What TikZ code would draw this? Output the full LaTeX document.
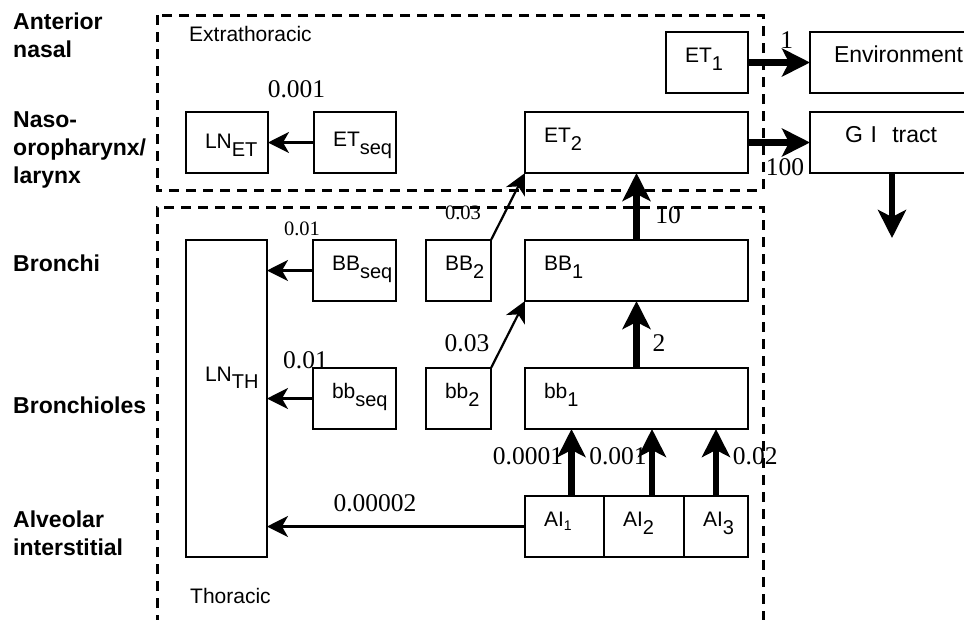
\documentclass[tikz,border=0pt]{standalone}
\usepackage{fontspec}
\setmainfont{Liberation Serif}
\setsansfont{Liberation Sans}
\usetikzlibrary{arrows.meta}
\newcommand\sbx[1]{\raisebox{-7.5pt}{\fontsize{20}{20}\selectfont #1}}
\newcommand\sbxs[1]{\raisebox{-3.5pt}{\fontsize{14}{14}\selectfont #1}}
\begin{document}
\begin{tikzpicture}[x=1pt,y=-1pt,
  box/.style={draw, line width=2.5pt, outer sep=0pt, inner xsep=19pt, inner ysep=0pt,
    align=left, anchor=north west, text height=8pt, text depth=8pt, minimum height=61pt,
    font=\sffamily\fontsize{21}{21}\selectfont},
  bigbox/.style={box, font=\sffamily\fontsize{23}{23}\selectfont, minimum width=200pt},
  thinarr/.style={line width=2.2pt, -{Stealth[length=21pt,width=21pt,inset=6pt]}},
  thickarr/.style={line width=6.5pt, -{Stealth[length=28pt,width=28pt,inset=7pt]}},
  zone/.style={line width=3pt, dash pattern=on 10pt off 7pt},
  num/.style={font=\fontsize{25.5}{25.5}\selectfont, anchor=base, inner sep=0pt},
  smallnum/.style={font=\fontsize{20.5}{20.5}\selectfont, anchor=base, inner sep=0pt},
  region/.style={font=\sffamily\bfseries\fontsize{23}{28}\selectfont, align=left, anchor=base west, inner sep=0pt},
  zonelabel/.style={font=\sffamily\fontsize{21}{21}\selectfont, anchor=base west, inner sep=0pt}]
\useasboundingbox (0,0) rectangle (964,619);
\clip (0,0) rectangle (964,619);

% zones
\draw[zone] (157,15) rectangle (763,190);
\draw[zone] (157,625) -- (157,207) -- (763,207) -- (763,625);
\node[zonelabel] (zext) at (189,41.7) {Extrathoracic};
\node[zonelabel] (zth) at (190,603) {Thoracic};

% region labels (base anchor = last line)
\node[region] (ran) at (13,57) {Anterior\\nasal};
\node[region] (rnl) at (13,183) {Naso-\\oropharynx/\\larynx};
\node[region] (rbr) at (13,271) {Bronchi};
\node[region] (rbl) at (13,413) {Bronchioles};
\node[region] (rai) at (13,555) {Alveolar\\interstitial};

% boxes
\node[box, minimum width=82pt, text width=44pt] (et1) at (666,32) {ET\sbx{1}};
\node[bigbox, inner xsep=24pt, text width=152pt] (env) at (810,32) {Environment};
\node[box, minimum width=82pt, text width=44pt, text height=14pt, text depth=2pt] (lnet) at (186,112) {LN\sbx{ET}};
\node[box, minimum width=82pt, text width=44pt, text height=12pt, text depth=4pt] (etseq) at (314,112) {ET\sbx{seq}};
\node[box, minimum width=223pt, text width=185pt] (et2) at (525,112) {ET\sbx{2}};
\node[bigbox, inner xsep=35pt, text width=130pt] (gi) at (810,112) {G I\ \ tract};
\node[box, minimum width=81pt, minimum height=317pt, text width=43pt, text height=4pt, text depth=39pt] (lnth) at (186,240) {LN\sbx{TH}};
\node[box, minimum width=83pt, text width=45pt] (bbseq) at (313,240) {BB\sbx{seq}};
\node[box, minimum width=65pt, text width=27pt] (bbtwo) at (426,240) {BB\sbx{2}};
\node[box, minimum width=223pt, text width=185pt] (bbone) at (525,240) {BB\sbx{1}};
\node[box, minimum width=83pt, text width=45pt] (bsseq) at (313,368) {bb\sbx{seq}};
\node[box, minimum width=65pt, text width=27pt] (bstwo) at (426,368) {bb\sbx{2}};
\node[box, minimum width=223pt, text width=185pt] (bsone) at (525,368) {bb\sbx{1}};
\node[box, minimum width=79pt, text width=41pt] (aione) at (525,496) {AI\sbxs{1}};
\node[box, minimum width=80pt, text width=42pt] (aitwo) at (604,496) {AI\sbx{2}};
\node[box, minimum width=64pt, text width=26pt] (aithree) at (684,496) {AI\sbx{3}};

% connectors
\draw[thinarr] (etseq.west) -- (lnet.east);
\draw[thickarr] (et1.east) -- (env.west);
\draw[thickarr] (et2.east) -- (gi.west);
\coordinate (giout) at (892,238);
\draw[thickarr] (giout |- gi.south) -- (giout);
\draw[thinarr] (bbtwo.north east) -- (et2.south west);
\draw[thinarr] (bstwo.north east) -- (bbone.south west);
\draw[thickarr] (bbone.north) -- (et2.south);
\draw[thickarr] (bsone.north) -- (bbone.south);
\draw[thinarr] (bbseq.west) -- (bbseq.west -| lnth.east);
\draw[thinarr] (bsseq.west) -- (bsseq.west -| lnth.east);
\draw[thinarr] (aione.west) -- (aione.west -| lnth.east);
\draw[thickarr] ([xshift=7pt]aione.north) -- ([xshift=7pt]aione.north |- bsone.south);
\draw[thickarr] ([xshift=8pt]aitwo.north) -- ([xshift=8pt]aitwo.north |- bsone.south);
\draw[thickarr] (aithree.north) -- (aithree.north |- bsone.south);

% rate labels
\node[num] (r1) at (296.5,97) {0.001};
\node[num] (r2) at (786.7,48) {1};
\node[num] (r3) at (785,175) {100};
\node[smallnum] (r4) at (302,235) {0.01};
\node[smallnum] (r5) at (463,219.3) {0.03};
\node[num] (r6) at (467,351.7) {0.03};
\node[num] (r7) at (305.5,368.3) {0.01};
\node[num] (r8) at (668,223) {10};
\node[num] (r9) at (659,351.7) {2};
\node[num] (r10) at (528,464) {0.0001};
\node[num] (r11) at (618,464) {0.001};
\node[num] (r12) at (755.3,464) {0.02};
\node[num] (r13) at (375,511.7) {0.00002};
\end{tikzpicture}
\end{document}
